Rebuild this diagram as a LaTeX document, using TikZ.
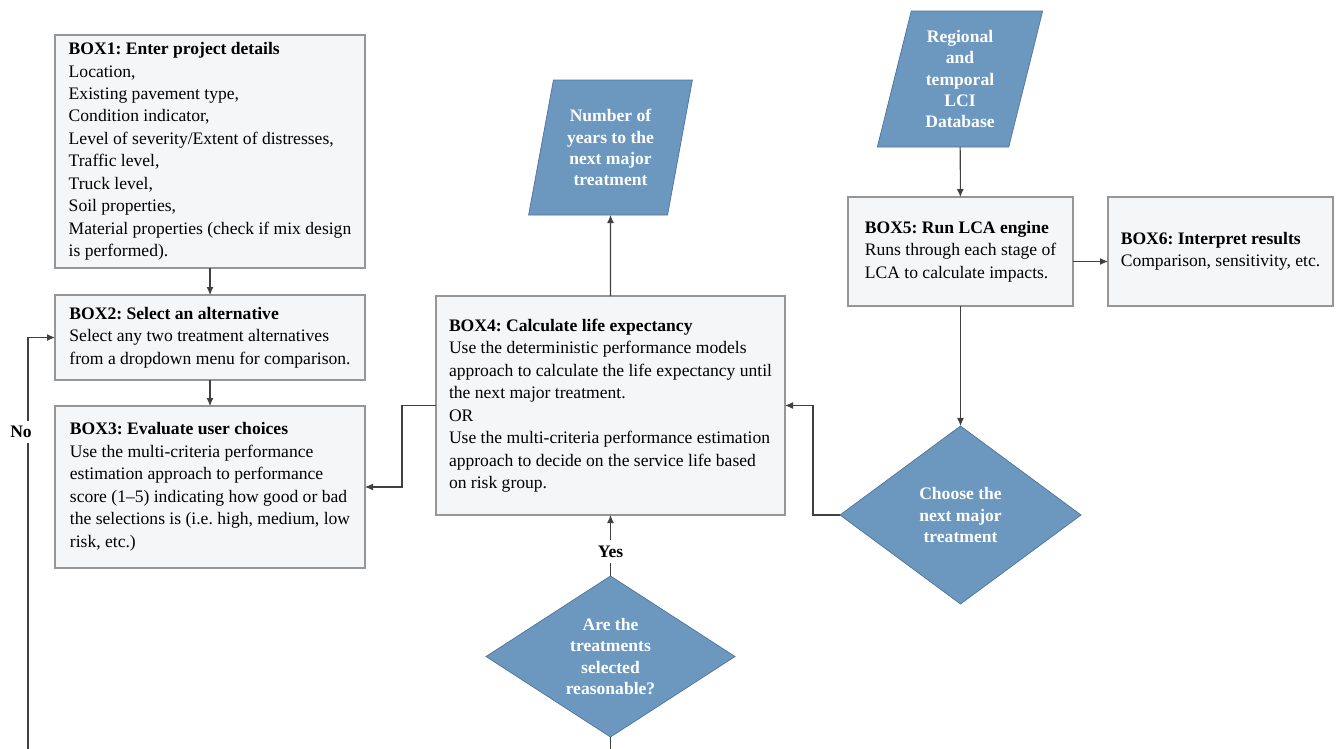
\documentclass[tikz,border=0pt]{standalone}
\usepackage{fontspec}
\setmainfont{Liberation Serif}
\usetikzlibrary{arrows.meta,shapes.geometric}
\frenchspacing
\definecolor{boxfill}{RGB}{245,246,248}
\definecolor{boxline}{RGB}{150,150,150}
\definecolor{flowblue}{RGB}{108,152,192}
\definecolor{flowedge}{RGB}{78,115,155}
\tikzset{
  stepbox/.style={draw=boxline, fill=boxfill, line width=0.6pt, align=left,
                  inner sep=0pt, outer sep=0pt},
  iobox/.style={trapezium, trapezium left angle=76, trapezium right angle=104,
                trapezium stretches=true, draw=flowedge, fill=flowblue,
                text=white, font=\bfseries, align=center, inner sep=0pt,
                outer sep=0pt},
  decide/.style={diamond, aspect=1.5, draw=flowedge, fill=flowblue,
                 text=white, font=\bfseries, align=center, inner sep=0pt,
                 outer sep=0pt},
  arr/.style={-{Latex[length=1.6mm,width=1.4mm]}, draw=black!75,
              line width=0.6pt},
  lbl/.style={fill=white, font=\bfseries, inner sep=3pt},
}

\begin{document}
\begin{tikzpicture}[font=\fontsize{10}{12.8}\selectfont]
\useasboundingbox (0,0) rectangle (26.78,-14.98);
\clip (0,0) rectangle (26.78,-14.98);

% left column
\node[stepbox, minimum width=6.2cm, minimum height=4.66cm] (box1) at (4.20,-3.03)
  {\textbf{BOX1: Enter project details}\\ Location,\\ Existing pavement type,\\
   Condition indicator,\\ Level of severity/Extent of distresses,\\
   Traffic level,\\ Truck level,\\ Soil properties,\\
   Material properties (check if mix design\\ is performed).};
\node[stepbox, minimum width=6.2cm, minimum height=1.70cm] (box2) at (4.20,-6.75)
  {\textbf{BOX2: Select an alternative}\\ Select any two treatment alternatives\\
   from a dropdown menu for comparison.};
\node[stepbox, minimum width=6.2cm, minimum height=3.24cm] (box3) at (4.20,-9.74)
  {\textbf{BOX3: Evaluate user choices}\\ Use the multi-criteria performance\\
   estimation approach to performance\\ score (1--5) indicating how good or bad\\
   the selections is (i.e. high, medium, low\\ risk, etc.)};

% middle column
\node[stepbox, minimum width=6.98cm, minimum height=4.38cm] (box4) at (12.21,-8.11)
  {\textbf{BOX4: Calculate life expectancy}\\
   Use the deterministic performance models\\
   approach to calculate the life expectancy until\\
   the next major treatment.\\ OR\\
   Use the multi-criteria performance estimation\\
   approach to decide on the service life based\\ on risk group.};
\node[iobox, minimum width=3.3cm, minimum height=2.7cm] (years) at (12.21,-2.95)
  {Number of\\ years to the\\ next major\\ treatment};
\node[decide, minimum width=4.98cm, minimum height=3.22cm] (are) at (12.21,-13.13)
  {Are the\\ treatments\\ selected\\ reasonable?};

% right column
\node[iobox, minimum width=3.32cm, minimum height=2.72cm] (lcidb) at (19.20,-1.58)
  {Regional\\ and\\ temporal\\ LCI\\ Database};
\node[stepbox, minimum width=4.5cm, minimum height=2.18cm] (box5) at (19.21,-5.03)
  {\textbf{BOX5: Run LCA engine}\\ Runs through each stage of\\
   LCA to calculate impacts.};
\node[stepbox, minimum width=4.5cm, minimum height=2.18cm] (box6) at (24.41,-5.03)
  {\textbf{BOX6: Interpret results}\\ Comparison, sensitivity, etc.};
\node[decide, minimum width=4.82cm, minimum height=3.56cm] (choose) at (19.21,-10.30)
  {Choose the\\ next major\\ treatment};

\coordinate (loopbl) at (0.56,-15.4);

% connectors
\draw[arr] (box1) -- (box2);
\draw[arr] (box2) -- (box3);
\draw[arr] (box4.west) -- ++(-0.68,0) |- (box3.east);
\draw[arr] (box4) -- (years);
\draw[arr] (lcidb) -- (box5);
\draw[arr] ([yshift=-2mm]box5.east) -- ([yshift=-2mm]box6.west);
\draw[arr] (box5) -- (choose);
\draw[arr] (choose.west) -- ++(-0.54,0) |- (box4.east);
\draw[arr] (are) -- node[lbl, pos=0.4] (yeslab) {Yes} (box4);
\draw[arr] (are.south) |- (loopbl) |- (box2.west);
\node[lbl] (nolab) at (0.42,-8.64) {No};

\end{tikzpicture}
\end{document}
